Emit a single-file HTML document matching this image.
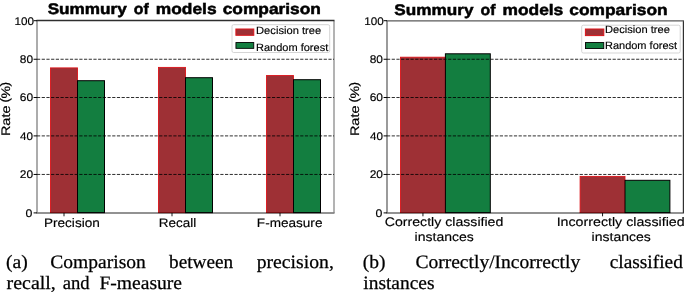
<!DOCTYPE html>
<html><head><meta charset="utf-8"><title>Figure</title>
<style>
html,body{margin:0;padding:0;background:#fff;}
body{width:685px;height:294px;overflow:hidden;}
svg{display:block;will-change:transform;}
svg text{font-family:"Liberation Sans",sans-serif;fill:#000;text-rendering:geometricPrecision;}
svg .cap text{font-family:"Liberation Serif",serif;}
</style></head><body>
<svg width="685" height="294" viewBox="0 0 685 294">
<rect width="685" height="294" fill="#fff"/>
<g><line x1="36.50" x2="334.50" y1="213.00" y2="213.00" stroke="#6e6e6e" stroke-width="1.4"/>
<rect x="50.50" y="67.90" width="27.00" height="144.70" fill="#9e3035" stroke="#dc141a" stroke-width="0.9"/>
<rect x="77.50" y="80.70" width="27.00" height="131.90" fill="#137e40" stroke="#000" stroke-width="1"/>
<rect x="158.50" y="67.40" width="27.00" height="145.20" fill="#9e3035" stroke="#dc141a" stroke-width="0.9"/>
<rect x="185.50" y="77.70" width="27.00" height="134.90" fill="#137e40" stroke="#000" stroke-width="1"/>
<rect x="266.50" y="75.55" width="27.00" height="137.05" fill="#9e3035" stroke="#dc141a" stroke-width="0.9"/>
<rect x="293.50" y="79.70" width="27.00" height="132.90" fill="#137e40" stroke="#000" stroke-width="1"/>
<line x1="50.05" x2="105.00" y1="212.60" y2="212.60" stroke="#000" stroke-opacity="0.55" stroke-width="0.9"/>
<line x1="158.05" x2="213.00" y1="212.60" y2="212.60" stroke="#000" stroke-opacity="0.55" stroke-width="0.9"/>
<line x1="266.05" x2="321.00" y1="212.60" y2="212.60" stroke="#000" stroke-opacity="0.55" stroke-width="0.9"/>
<line x1="37.00" x2="37.00" y1="20.70" y2="212.90" stroke="#757575" stroke-width="1.2"/>
<line x1="334.00" x2="334.00" y1="20.70" y2="212.90" stroke="#808080" stroke-width="1.2"/>
<line x1="36.50" x2="334.50" y1="20.50" y2="20.50" stroke="#2e2e2e" stroke-width="1.3"/>
<line x1="37.00" x2="334.00" y1="174.45" y2="174.45" stroke="#000" stroke-opacity="0.82" stroke-width="1" stroke-dasharray="3.2 1.5"/>
<line x1="37.00" x2="334.00" y1="135.90" y2="135.90" stroke="#000" stroke-opacity="0.82" stroke-width="1" stroke-dasharray="3.2 1.5"/>
<line x1="37.00" x2="334.00" y1="97.50" y2="97.50" stroke="#000" stroke-opacity="0.82" stroke-width="1" stroke-dasharray="3.2 1.5"/>
<line x1="37.00" x2="334.00" y1="59.25" y2="59.25" stroke="#000" stroke-opacity="0.82" stroke-width="1" stroke-dasharray="3.2 1.5"/>
<line x1="33.60" x2="37.00" y1="212.90" y2="212.90" stroke="#000" stroke-width="1"/>
<text x="25.63" y="216.85" font-size="11.0" textLength="6.88" lengthAdjust="spacingAndGlyphs" stroke="#000" stroke-width="0.15">0</text>
<line x1="33.60" x2="37.00" y1="174.45" y2="174.45" stroke="#000" stroke-width="1"/>
<text x="19.77" y="178.40" font-size="11.0" textLength="13.32" lengthAdjust="spacingAndGlyphs" stroke="#000" stroke-width="0.15">20</text>
<line x1="33.60" x2="37.00" y1="135.90" y2="135.90" stroke="#000" stroke-width="1"/>
<text x="20.11" y="139.85" font-size="11.0" textLength="12.97" lengthAdjust="spacingAndGlyphs" stroke="#000" stroke-width="0.15">40</text>
<line x1="33.60" x2="37.00" y1="97.50" y2="97.50" stroke="#000" stroke-width="1"/>
<text x="19.77" y="101.45" font-size="11.0" textLength="13.33" lengthAdjust="spacingAndGlyphs" stroke="#000" stroke-width="0.15">60</text>
<line x1="33.60" x2="37.00" y1="59.25" y2="59.25" stroke="#000" stroke-width="1"/>
<text x="19.86" y="63.20" font-size="11.0" textLength="13.23" lengthAdjust="spacingAndGlyphs" stroke="#000" stroke-width="0.15">80</text>
<line x1="33.60" x2="37.00" y1="20.70" y2="20.70" stroke="#000" stroke-width="1"/>
<text x="14.48" y="24.65" font-size="11.0" textLength="19.50" lengthAdjust="spacingAndGlyphs" stroke="#000" stroke-width="0.15">100</text>
<line x1="64.00" x2="64.00" y1="212.90" y2="216.30" stroke="#000" stroke-width="0.9"/>
<line x1="172.00" x2="172.00" y1="212.90" y2="216.30" stroke="#000" stroke-width="0.9"/>
<line x1="280.00" x2="280.00" y1="212.90" y2="216.30" stroke="#000" stroke-width="0.9"/>
<text x="43.96" y="226.60" font-size="12.4" textLength="55.85" lengthAdjust="spacingAndGlyphs" stroke="#000" stroke-width="0.15">Precision</text>
<text x="158.87" y="226.60" font-size="12.4" textLength="37.46" lengthAdjust="spacingAndGlyphs" stroke="#000" stroke-width="0.15">Recall</text>
<text x="256.86" y="226.60" font-size="12.4" textLength="65.57" lengthAdjust="spacingAndGlyphs" stroke="#000" stroke-width="0.15">F-measure</text>
<text transform="translate(9.90,136.10) rotate(-90)" font-size="12.4" textLength="30.60" lengthAdjust="spacingAndGlyphs" stroke="#000" stroke-width="0.2">Rate</text>
<text transform="translate(8.60,102.50) rotate(-90)" font-size="12.4" textLength="4.60" lengthAdjust="spacingAndGlyphs" stroke="#000" stroke-width="0.2">(</text>
<text transform="translate(9.90,98.60) rotate(-90)" font-size="12.4" textLength="12.60" lengthAdjust="spacingAndGlyphs" stroke="#000" stroke-width="0.2">%</text>
<text transform="translate(8.60,86.60) rotate(-90)" font-size="12.4" textLength="4.60" lengthAdjust="spacingAndGlyphs" stroke="#000" stroke-width="0.2">)</text>
<text x="47.66" y="14.15" font-size="15.3" font-weight="bold" textLength="79.09" lengthAdjust="spacingAndGlyphs" stroke="#000" stroke-width="0.5">Summury</text>
<text x="133.83" y="14.15" font-size="15.3" font-weight="bold" textLength="14.89" lengthAdjust="spacingAndGlyphs" stroke="#000" stroke-width="0.5">of</text>
<text x="155.81" y="14.15" font-size="15.3" font-weight="bold" textLength="60.76" lengthAdjust="spacingAndGlyphs" stroke="#000" stroke-width="0.5">models</text>
<text x="222.67" y="14.15" font-size="15.3" font-weight="bold" textLength="98.25" lengthAdjust="spacingAndGlyphs" stroke="#000" stroke-width="0.5">comparison</text>
<rect x="232.00" y="24.70" width="97.70" height="27.80" rx="1.6" fill="#fff" fill-opacity="0.8" stroke="#d0d0d0" stroke-width="0.9"/>
<rect x="235.90" y="29.00" width="17.90" height="6.30" fill="#9e3035" stroke="#dc141a" stroke-width="1"/>
<rect x="235.95" y="42.55" width="17.80" height="5.80" fill="#137e40" stroke="#000" stroke-width="0.9"/>
<text x="256.06" y="34.10" font-size="10.6" textLength="65.16" lengthAdjust="spacingAndGlyphs" stroke="#000" stroke-width="0.15">Decision tree</text>
<text x="256.07" y="50.60" font-size="10.6" textLength="72.13" lengthAdjust="spacingAndGlyphs" stroke="#000" stroke-width="0.15">Random forest</text></g>
<g><line x1="386.50" x2="683.90" y1="213.00" y2="213.00" stroke="#6e6e6e" stroke-width="1.4"/>
<rect x="400.50" y="57.20" width="44.90" height="155.40" fill="#9e3035" stroke="#dc141a" stroke-width="0.9"/>
<rect x="445.40" y="53.80" width="44.90" height="158.80" fill="#137e40" stroke="#000" stroke-width="1"/>
<rect x="580.10" y="176.40" width="44.90" height="36.20" fill="#9e3035" stroke="#dc141a" stroke-width="0.9"/>
<rect x="625.00" y="180.30" width="44.90" height="32.30" fill="#137e40" stroke="#000" stroke-width="1"/>
<line x1="400.05" x2="490.80" y1="212.60" y2="212.60" stroke="#000" stroke-opacity="0.55" stroke-width="0.9"/>
<line x1="579.65" x2="670.40" y1="212.60" y2="212.60" stroke="#000" stroke-opacity="0.55" stroke-width="0.9"/>
<line x1="387.00" x2="387.00" y1="20.70" y2="212.90" stroke="#585858" stroke-width="1.2"/>
<line x1="683.40" x2="683.40" y1="20.70" y2="212.90" stroke="#303030" stroke-width="1.2"/>
<line x1="386.50" x2="683.90" y1="20.80" y2="20.80" stroke="#5a5a5a" stroke-width="1.3"/>
<line x1="387.00" x2="683.40" y1="174.45" y2="174.45" stroke="#000" stroke-opacity="0.82" stroke-width="1" stroke-dasharray="3.2 1.5"/>
<line x1="387.00" x2="683.40" y1="135.90" y2="135.90" stroke="#000" stroke-opacity="0.82" stroke-width="1" stroke-dasharray="3.2 1.5"/>
<line x1="387.00" x2="683.40" y1="97.50" y2="97.50" stroke="#000" stroke-opacity="0.82" stroke-width="1" stroke-dasharray="3.2 1.5"/>
<line x1="387.00" x2="683.40" y1="59.25" y2="59.25" stroke="#000" stroke-opacity="0.82" stroke-width="1" stroke-dasharray="3.2 1.5"/>
<line x1="383.60" x2="387.00" y1="212.90" y2="212.90" stroke="#000" stroke-width="1"/>
<text x="375.53" y="216.85" font-size="11.0" textLength="6.88" lengthAdjust="spacingAndGlyphs" stroke="#000" stroke-width="0.15">0</text>
<line x1="383.60" x2="387.00" y1="174.45" y2="174.45" stroke="#000" stroke-width="1"/>
<text x="369.67" y="178.40" font-size="11.0" textLength="13.32" lengthAdjust="spacingAndGlyphs" stroke="#000" stroke-width="0.15">20</text>
<line x1="383.60" x2="387.00" y1="135.90" y2="135.90" stroke="#000" stroke-width="1"/>
<text x="370.01" y="139.85" font-size="11.0" textLength="12.97" lengthAdjust="spacingAndGlyphs" stroke="#000" stroke-width="0.15">40</text>
<line x1="383.60" x2="387.00" y1="97.50" y2="97.50" stroke="#000" stroke-width="1"/>
<text x="369.67" y="101.45" font-size="11.0" textLength="13.33" lengthAdjust="spacingAndGlyphs" stroke="#000" stroke-width="0.15">60</text>
<line x1="383.60" x2="387.00" y1="59.25" y2="59.25" stroke="#000" stroke-width="1"/>
<text x="369.76" y="63.20" font-size="11.0" textLength="13.23" lengthAdjust="spacingAndGlyphs" stroke="#000" stroke-width="0.15">80</text>
<line x1="383.60" x2="387.00" y1="20.70" y2="20.70" stroke="#000" stroke-width="1"/>
<text x="364.38" y="24.65" font-size="11.0" textLength="19.50" lengthAdjust="spacingAndGlyphs" stroke="#000" stroke-width="0.15">100</text>
<line x1="422.95" x2="422.95" y1="212.90" y2="216.30" stroke="#000" stroke-width="0.9"/>
<line x1="602.55" x2="602.55" y1="212.90" y2="216.30" stroke="#000" stroke-width="0.9"/>
<text x="384.76" y="226.40" font-size="12.4" textLength="118.58" lengthAdjust="spacingAndGlyphs" stroke="#000" stroke-width="0.15">Correctly classified</text>
<text x="414.64" y="240.60" font-size="12.4" textLength="59.19" lengthAdjust="spacingAndGlyphs" stroke="#000" stroke-width="0.15">instances</text>
<text x="556.66" y="226.40" font-size="12.4" textLength="127.98" lengthAdjust="spacingAndGlyphs" stroke="#000" stroke-width="0.15">Incorrectly classified</text>
<text x="591.64" y="240.60" font-size="12.4" textLength="59.19" lengthAdjust="spacingAndGlyphs" stroke="#000" stroke-width="0.15">instances</text>
<text transform="translate(358.90,136.10) rotate(-90)" font-size="12.4" textLength="30.60" lengthAdjust="spacingAndGlyphs" stroke="#000" stroke-width="0.2">Rate</text>
<text transform="translate(357.60,102.50) rotate(-90)" font-size="12.4" textLength="4.60" lengthAdjust="spacingAndGlyphs" stroke="#000" stroke-width="0.2">(</text>
<text transform="translate(358.90,98.60) rotate(-90)" font-size="12.4" textLength="12.60" lengthAdjust="spacingAndGlyphs" stroke="#000" stroke-width="0.2">%</text>
<text transform="translate(357.60,86.60) rotate(-90)" font-size="12.4" textLength="4.60" lengthAdjust="spacingAndGlyphs" stroke="#000" stroke-width="0.2">)</text>
<text x="394.36" y="15.15" font-size="15.3" font-weight="bold" textLength="79.09" lengthAdjust="spacingAndGlyphs" stroke="#000" stroke-width="0.5">Summury</text>
<text x="480.53" y="15.15" font-size="15.3" font-weight="bold" textLength="14.89" lengthAdjust="spacingAndGlyphs" stroke="#000" stroke-width="0.5">of</text>
<text x="502.51" y="15.15" font-size="15.3" font-weight="bold" textLength="60.76" lengthAdjust="spacingAndGlyphs" stroke="#000" stroke-width="0.5">models</text>
<text x="569.37" y="15.15" font-size="15.3" font-weight="bold" textLength="98.25" lengthAdjust="spacingAndGlyphs" stroke="#000" stroke-width="0.5">comparison</text>
<rect x="581.70" y="25.20" width="98.50" height="27.80" rx="1.6" fill="#fff" fill-opacity="0.8" stroke="#d0d0d0" stroke-width="0.9"/>
<rect x="585.40" y="29.00" width="18.40" height="6.60" fill="#9e3035" stroke="#dc141a" stroke-width="1"/>
<rect x="585.45" y="42.55" width="18.30" height="6.00" fill="#137e40" stroke="#000" stroke-width="0.9"/>
<text x="604.96" y="32.80" font-size="10.6" textLength="64.86" lengthAdjust="spacingAndGlyphs" stroke="#000" stroke-width="0.15">Decision tree</text>
<text x="604.97" y="49.00" font-size="10.6" textLength="72.13" lengthAdjust="spacingAndGlyphs" stroke="#000" stroke-width="0.15">Random forest</text></g>
<g class="cap"><text x="6.06" y="267.60" font-size="18.9" textLength="21.77" lengthAdjust="spacingAndGlyphs" stroke="#000" stroke-width="0.25">(a)</text>
<text x="50.32" y="267.60" font-size="18.9" textLength="95.45" lengthAdjust="spacingAndGlyphs" stroke="#000" stroke-width="0.25">Comparison</text>
<text x="169.12" y="267.60" font-size="18.9" textLength="64.04" lengthAdjust="spacingAndGlyphs" stroke="#000" stroke-width="0.25">between</text>
<text x="256.71" y="267.60" font-size="18.9" textLength="77.11" lengthAdjust="spacingAndGlyphs" stroke="#000" stroke-width="0.25">precision,</text>
<text x="6.53" y="289.20" font-size="18.9" textLength="49.31" lengthAdjust="spacingAndGlyphs" stroke="#000" stroke-width="0.25">recall,</text>
<text x="62.77" y="289.20" font-size="18.9" textLength="26.93" lengthAdjust="spacingAndGlyphs" stroke="#000" stroke-width="0.25">and</text>
<text x="99.46" y="289.20" font-size="18.9" textLength="82.59" lengthAdjust="spacingAndGlyphs" stroke="#000" stroke-width="0.25">F-measure</text>
<text x="362.87" y="267.60" font-size="18.9" textLength="22.77" lengthAdjust="spacingAndGlyphs" stroke="#000" stroke-width="0.25">(b)</text>
<text x="415.42" y="267.60" font-size="18.9" textLength="164.83" lengthAdjust="spacingAndGlyphs" stroke="#000" stroke-width="0.25">Correctly/Incorrectly</text>
<text x="609.79" y="267.60" font-size="18.9" textLength="73.02" lengthAdjust="spacingAndGlyphs" stroke="#000" stroke-width="0.25">classified</text>
<text x="363.32" y="289.20" font-size="18.9" textLength="71.16" lengthAdjust="spacingAndGlyphs" stroke="#000" stroke-width="0.25">instances</text></g>
</svg>
</body></html>
